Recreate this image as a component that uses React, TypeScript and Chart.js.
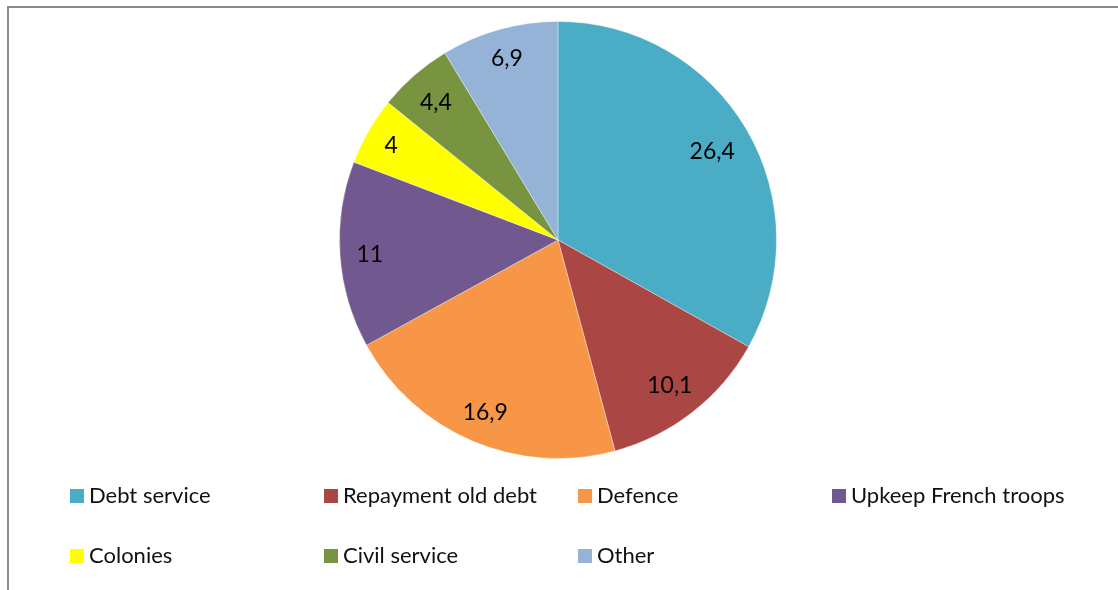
import React, { useEffect, useRef } from "react";
import { Chart, registerables } from "chart.js";

Chart.register(...registerables);

const categories = [
  "Debt service",
  "Repayment old debt",
  "Defence",
  "Upkeep French troops",
  "Colonies",
  "Civil service",
  "Other",
];
const values = [26.4, 10.1, 16.9, 11, 4, 4.4, 6.9];
const colors = ["#4BACC6", "#AA4643", "#F79646", "#71588F", "#FFFF00", "#789440", "#94B3D6"];

const FONT = "Lato, 'Open Sans', sans-serif";
const fmt = (v: number) => String(v).replace(".", ",");

const labelPlugin = {
  id: "sliceLabels",
  afterDatasetsDraw(chart: any) {
    const ctx = chart.ctx;
    const meta = chart.getDatasetMeta(0);
    ctx.save();
    ctx.font = `23px ${FONT}`;
    ctx.fillStyle = "#000";
    ctx.textAlign = "center";
    ctx.textBaseline = "middle";
    meta.data.forEach((arc: any, i: number) => {
      const p = arc.getProps(["x", "y", "startAngle", "endAngle", "outerRadius"], true);
      const mid = (p.startAngle + p.endAngle) / 2;
      const text = fmt(values[i]);
      const w = ctx.measureText(text).width;
      const h = 17;
      const proj = (w / 2) * Math.abs(Math.cos(mid)) + (h / 2) * Math.abs(Math.sin(mid));
      const d = p.outerRadius - 16 - proj;
      ctx.fillText(text, p.x + Math.cos(mid) * d, p.y + Math.sin(mid) * d + 2);
    });
    ctx.restore();
  },
};

const legendCols = [70, 324, 578, 832];
const legendRows = [496, 556];

const legendPlugin = {
  id: "gridLegend",
  afterDraw(chart: any) {
    const ctx = chart.ctx;
    ctx.save();
    ctx.font = `22px ${FONT}`;
    ctx.textAlign = "left";
    ctx.textBaseline = "middle";
    categories.forEach((c, i) => {
      const x = legendCols[i % 4];
      const y = legendRows[Math.floor(i / 4)];
      ctx.fillStyle = colors[i];
      ctx.fillRect(x, y - 7, 14, 14);
      ctx.fillStyle = "#111";
      ctx.fillText(c, x + 19, y);
    });
    ctx.restore();
  },
};

export default function App() {
  const ref = useRef<HTMLCanvasElement | null>(null);
  useEffect(() => {
    if (!ref.current) return;
    const chart = new Chart(ref.current, {
      type: "pie",
      data: {
        labels: categories,
        datasets: [
          {
            data: values,
            backgroundColor: colors,
            borderColor: "rgba(255,255,255,0.35)",
            borderWidth: 1,
          },
        ],
      },
      options: {
        animation: false,
        responsive: false,
        events: [],
        layout: { padding: { top: 21, bottom: 131, left: 0, right: 2 } },
        plugins: {
          legend: { display: false },
          tooltip: { enabled: false },
        },
      },
      plugins: [labelPlugin, legendPlugin],
    });
    return () => chart.destroy();
  }, []);
  return (
    <div style={{ position: "fixed", left: 0, top: 0, width: 1118, height: 590, background: "#fff", overflow: "hidden" }}>
      <div
        style={{
          position: "absolute",
          left: 7,
          top: 6,
          width: 1200,
          height: 700,
          borderLeft: "2px solid #8a8a8a",
          borderTop: "2px solid #8a8a8a",
        }}
      />
      <canvas ref={ref} width={1118} height={590} style={{ position: "absolute", left: 0, top: 0, width: 1118, height: 590 }} />
    </div>
  );
}
